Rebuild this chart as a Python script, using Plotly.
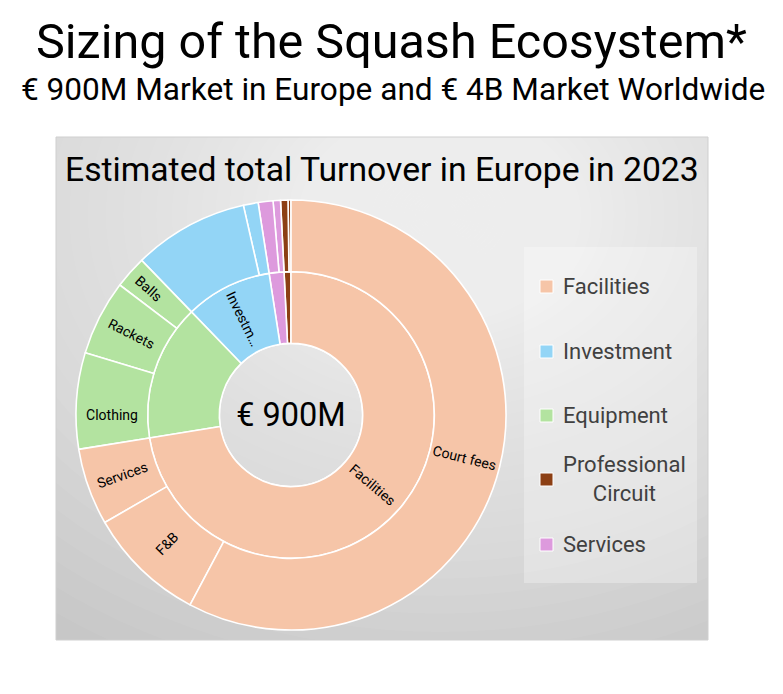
import math
import plotly.graph_objects as go

# ---------------- data (M€) ----------------
categories = ["Facilities", "Equipment", "Investment", "Services", "Professional Circuit"]
category_colors = ["#F6C5A8", "#B3E3A0", "#93D5F6", "#DD9ADD", "#8C3F14"]
category_labels_shown = ["", "", "Investm…", "", ""]

sub_parents = ["Facilities", "Facilities", "Facilities",
               "Equipment", "Equipment", "Equipment",
               "Investment", "Investment",
               "Services", "Services",
               "Professional Circuit", "Professional Circuit"]
sub_names = ["Court fees", "F&B", "Fac. services",
             "Clothing", "Rackets", "Balls",
             "Inv. A", "Inv. B",
             "Serv. A", "Serv. B",
             "Circuit A", "Circuit B"]
sub_labels_shown = ["", "F&B", "Services",
                    "Clothing", "Rackets", "Balls",
                    "", "",
                    "", "",
                    "", ""]
sub_values = [520, 80, 52,
              65, 51, 22,
              78, 10,
              10, 5,
              5, 2]

total_label = "€ 900M"
legend_order = ["Facilities", "Investment", "Equipment", "Professional<br>Circuit", "Services"]
legend_colors = ["#F6C5A8", "#93D5F6", "#B3E3A0", "#8C3F14", "#DD9ADD"]

FONT = "Roboto, Arial"
W, H = 783, 694
def X(v): return v / W
def Y(v): return 1 - v / H

# ---------------- build hierarchy ----------------
root = "root"
cat_values = [sum(v for p, v in zip(sub_parents, sub_values) if p == c) for c in categories]
total = sum(cat_values)

ids, labels, parents, values, colors, texts, fsizes = [], [], [], [], [], [], []
ids.append(root); labels.append(total_label); parents.append(""); values.append(total)
colors.append("rgba(0,0,0,0)"); texts.append(total_label); fsizes.append(32.5)

# plotly lays sectors counterclockwise; reverse to get clockwise order from 12 o'clock
for ci in reversed(range(len(categories))):
    c = categories[ci]
    ids.append(c); labels.append(c); parents.append(root); values.append(cat_values[ci])
    colors.append(category_colors[ci]); texts.append(category_labels_shown[ci]); fsizes.append(14)
    kids = [i for i, p in enumerate(sub_parents) if p == c]
    for i in reversed(kids):
        ids.append(c + "/" + sub_names[i]); labels.append(sub_names[i]); parents.append(c)
        values.append(sub_values[i]); colors.append(category_colors[ci])
        texts.append(sub_labels_shown[i]); fsizes.append(14)

dom_x = [76, 506]
dom_y = [200, 630]
fig = go.Figure(go.Sunburst(
    ids=ids, labels=labels, parents=parents, values=values,
    branchvalues="total", sort=False, rotation=90,
    marker=dict(colors=colors, line=dict(color="white", width=1.6)),
    leaf=dict(opacity=1),
    text=texts, texttemplate="%{text}",
    textfont=dict(family=FONT, size=fsizes, color="black"),
    insidetextorientation="radial",
    domain=dict(x=[X(dom_x[0]), X(dom_x[1])], y=[Y(dom_y[1]), Y(dom_y[0])]),
    hoverinfo="label+value",
))

# labels of the two large sectors (radial orientation, at the sector mid-angle)
cx, cy = sum(dom_x) / 2, sum(dom_y) / 2
R = (dom_x[1] - dom_x[0]) / 2
ring = R / 3
fac_mid = 360 * (cat_values[0] / 2) / total
court_mid = 360 * (sub_values[0] / 2) / total
big_labels = [("Facilities", fac_mid, ring * 1.5), ("Court fees", court_mid, ring * 2.5)]

# ---------------- background panel with radial-ish gradient ----------------
shapes = []
px0, px1, py0, py1 = 56, 708, 137, 640
shapes.append(dict(type="rect", xref="paper", yref="paper", x0=X(px0), x1=X(px1), y0=Y(py1), y1=Y(py0),
                   fillcolor="#bfbfbf", line=dict(width=0), layer="below"))
gx, gy, sx = 440, 215, 1.3
N = 70
for k in range(N):
    r = 560 * ((N - k) / N) ** 2.8
    shapes.append(dict(type="circle", xref="paper", yref="paper",
                       x0=X(gx - r * sx), x1=X(gx + r * sx), y0=Y(gy + r), y1=Y(gy - r),
                       fillcolor="rgba(255,255,255,0.05)", line=dict(width=0), layer="below"))
# white mask outside panel
shapes += [
    dict(type="rect", xref="paper", yref="paper", x0=0, x1=1, y0=Y(py0), y1=1, fillcolor="white", line=dict(width=0), layer="below"),
    dict(type="rect", xref="paper", yref="paper", x0=0, x1=1, y0=0, y1=Y(py1), fillcolor="white", line=dict(width=0), layer="below"),
    dict(type="rect", xref="paper", yref="paper", x0=0, x1=X(px0), y0=0, y1=1, fillcolor="white", line=dict(width=0), layer="below"),
    dict(type="rect", xref="paper", yref="paper", x0=X(px1), x1=1, y0=0, y1=1, fillcolor="white", line=dict(width=0), layer="below"),
    dict(type="rect", xref="paper", yref="paper", x0=X(px0), x1=X(px1), y0=Y(py1), y1=Y(py0),
         fillcolor="rgba(0,0,0,0)", line=dict(color="#cfcfcf", width=1), layer="below"),
]
# legend box
shapes.append(dict(type="rect", xref="paper", yref="paper", x0=X(524), x1=X(697), y0=Y(583), y1=Y(247),
                   fillcolor="rgba(255,255,255,0.3)", line=dict(width=0), layer="below"))

annotations = [
    dict(text="Sizing of the Squash Ecosystem*", x=X(391), y=Y(41), xref="paper", yref="paper",
         xanchor="center", yanchor="middle",
         showarrow=False, font=dict(family=FONT, size=48.5, color="black")),
    dict(text="€ 900M Market in Europe and € 4B Market Worldwide", x=X(393), y=Y(89), xref="paper", yref="paper",
         xanchor="center", yanchor="middle",
         showarrow=False, font=dict(family=FONT, size=31.6, color="black")),
    dict(text="Estimated total Turnover in Europe in 2023", x=X(382), y=Y(170), xref="paper", yref="paper",
         xanchor="center", yanchor="middle",
         showarrow=False, font=dict(family=FONT, size=33.7, color="black")),
]
for txt, ang, rr in big_labels:
    t = math.radians(ang)
    annotations.append(dict(text=txt, x=X(cx + rr * math.sin(t)), y=Y(cy - rr * math.cos(t)),
                            xref="paper", yref="paper", xanchor="center", yanchor="middle",
                            textangle=ang - 90, showarrow=False,
                            font=dict(family=FONT, size=14, color="black")))

leg_y = [286, 351, 415, 479, 544]
for name, col, yy in zip(legend_order, legend_colors, leg_y):
    shapes.append(dict(type="rect", xref="paper", yref="paper", x0=X(540), x1=X(553), y0=Y(yy + 7), y1=Y(yy - 6),
                       fillcolor=col, line=dict(color="white", width=1), layer="above"))
    annotations.append(dict(text=name, x=X(561), y=Y(yy), xref="paper", yref="paper",
                            xanchor="left", yanchor="middle", align="center", showarrow=False,
                            font=dict(family=FONT, size=22, color="#404040")))

fig.update_layout(width=W, height=H, margin=dict(l=0, r=0, t=0, b=0),
                  paper_bgcolor="white", plot_bgcolor="white",
                  shapes=shapes, annotations=annotations, showlegend=False)
fig.write_html("out.html", config={"displayModeBar": False},
               post_script="document.body.style.margin='0px';")
